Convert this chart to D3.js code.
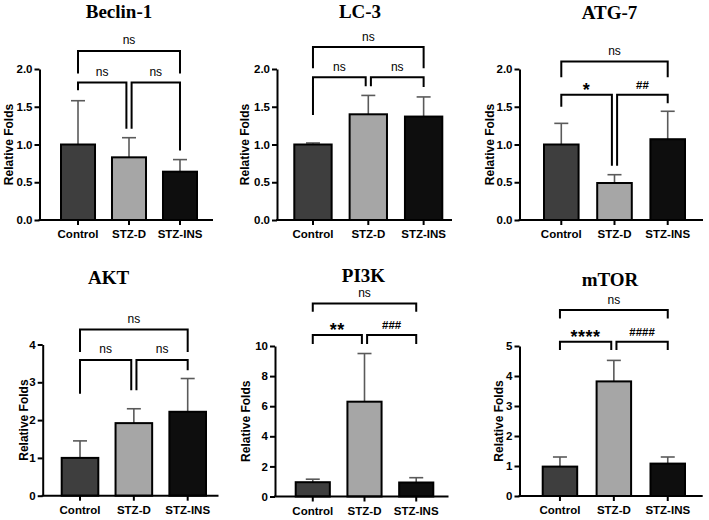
<!DOCTYPE html>
<html>
<head>
<meta charset="utf-8">
<script src="https://cdn.jsdelivr.net/npm/d3@7"></script>
<style>
  html, body { margin: 0; padding: 0; background: #fff; }
  svg { display: block; }
</style>
</head>
<body>
<svg id="chart" width="709" height="520"></svg>
<script>
// ---------------- DATA ----------------
const categories = ["Control", "STZ-D", "STZ-INS"];
const panelTitles = ["Beclin-1", "LC-3", "ATG-7", "AKT", "PI3K", "mTOR"];
const yAxisTitle = "Relative Folds";
// mean relative folds per panel (Control, STZ-D, STZ-INS)
const meanValues = [
  [1.00, 0.83, 0.64],
  [1.00, 1.40, 1.37],
  [1.00, 0.49, 1.07],
  [1.00, 1.92, 2.22],
  [0.95, 6.30, 0.93],
  [0.98, 3.82, 1.08]
];
// top of upper error bar per panel
const errorTops = [
  [1.58, 1.09, 0.80],
  [1.02, 1.65, 1.63],
  [1.28, 0.60, 1.44],
  [1.45, 2.30, 3.10],
  [1.15, 9.50, 1.25],
  [1.30, 4.52, 1.30]
];
const yMaxValues = [2, 2, 2, 4, 10, 5];
const yTickValues = [
  [0, 0.5, 1.0, 1.5, 2.0],
  [0, 0.5, 1.0, 1.5, 2.0],
  [0, 0.5, 1.0, 1.5, 2.0],
  [0, 1, 2, 3, 4],
  [0, 2, 4, 6, 8, 10],
  [0, 1, 2, 3, 4, 5]
];
const yTickFormats = [".1f", ".1f", ".1f", "d", "d", "d"];
// comparisons: [Control vs STZ-D, STZ-D vs STZ-INS, Control vs STZ-INS]
const comparisons = [[0, 1], [1, 2], [0, 2]];
const significanceLabels = [
  ["ns", "ns", "ns"],
  ["ns", "ns", "ns"],
  ["*", "##", "ns"],
  ["ns", "ns", "ns"],
  ["**", "###", "ns"],
  ["****", "####", "ns"]
];

// ---------------- LAYOUT (positions / sizes) ----------------
const layout = [
  { axisX: 39.5, axisEnd: 213, yTop: 69, yBottom: 220, band: [61, 197], pad: 0.333,
    titleX: 119, titleY: 17.5, yTitleX: 12.5,
    brLow: 1.82, brTop: 2.24, topLeg: 1.94, legs: [[1.72, 1.21], [1.21, 0.92]] },
  { axisX: 277, axisEnd: 452, yTop: 69, yBottom: 220, band: [294.3, 442.3], pad: 0.325,
    titleX: 360, titleY: 17.5, yTitleX: 248.5,
    brLow: 1.89, brTop: 2.29, topLeg: 2.01, legs: [[1.39, 1.77], [1.77, 1.76]] },
  { axisX: 519.5, axisEnd: 703, yTop: 69, yBottom: 220, band: [544, 685], pad: 0.35,
    titleX: 609.5, titleY: 18.5, yTitleX: 493.5,
    brLow: 1.66, brTop: 2.10, topLeg: 1.89, legs: [[1.50, 0.72], [0.72, 1.545]] },
  { axisX: 42.7, axisEnd: 218.5, yTop: 344.5, yBottom: 495.7, band: [61.7, 206], pad: 0.32,
    titleX: 108.5, titleY: 283.5, yTitleX: 28.3,
    brLow: 3.59, brTop: 4.40, topLeg: 3.80, legs: [[2.70, 2.79], [2.79, 3.32]] },
  { axisX: 275, axisEnd: 448.5, yTop: 346, yBottom: 496.5, band: [295.7, 433.3], pad: 0.34,
    titleX: 363.5, titleY: 282, yTitleX: 249.5,
    brLow: 10.73, brTop: 12.83, topLeg: 12.28, legs: [[10.13, 10.13], [10.13, 10.13]] },
  { axisX: 519.5, axisEnd: 702.7, yTop: 346, yBottom: 496, band: [542.7, 685], pad: 0.36,
    titleX: 610, titleY: 286, yTitleX: 502.5,
    brLow: 5.14, brTop: 6.20, topLeg: 5.92, legs: [[4.87, 4.87], [4.87, 4.87]] }
];

const barColors = ["#3e3e3e", "#a6a6a6", "#0e0e0e"];
const sansFont = "'Liberation Sans', Arial, Helvetica, sans-serif";
const serifFont = "'Liberation Serif', 'Times New Roman', serif";

const svg = d3.select("#chart");

panelTitles.forEach((title, p) => {
  const L = layout[p];
  const g = svg.append("g");
  const y = d3.scaleLinear().domain([0, yMaxValues[p]]).range([L.yBottom, L.yTop]);
  const x = d3.scaleBand().domain(categories).range(L.band).paddingInner(L.pad).paddingOuter(0);
  const bw = x.bandwidth();
  const cx = c => x(c) + bw / 2;

  // Title
  g.append("text")
    .attr("x", L.titleX).attr("y", L.titleY)
    .attr("text-anchor", "middle")
    .style("font-family", serifFont).style("font-weight", "bold").style("font-size", "19px")
    .text(title);

  // Y axis title
  g.append("text")
    .attr("transform", `translate(${L.yTitleX},${(L.yTop + L.yBottom) / 2}) rotate(-90)`)
    .attr("text-anchor", "middle")
    .style("font-family", sansFont).style("font-weight", "bold").style("font-size", "12px")
    .text(yAxisTitle);

  const rows = categories.map((c, i) => ({ c, i, v: meanValues[p][i], e: errorTops[p][i] }));

  // Error bars (upper only)
  const capW = 14;
  g.selectAll(".err").data(rows).enter().append("line")
    .attr("x1", d => cx(d.c)).attr("x2", d => cx(d.c))
    .attr("y1", d => y(d.v)).attr("y2", d => y(d.e))
    .attr("stroke", "#5a5a5a").attr("stroke-width", 1.6);
  g.selectAll(".cap").data(rows).enter().append("line")
    .attr("x1", d => cx(d.c) - capW / 2).attr("x2", d => cx(d.c) + capW / 2)
    .attr("y1", d => y(d.e)).attr("y2", d => y(d.e))
    .attr("stroke", "#5a5a5a").attr("stroke-width", 1.6);

  // Bars
  g.selectAll(".bar").data(rows).enter().append("rect")
    .attr("x", d => x(d.c)).attr("width", bw)
    .attr("y", d => y(d.v)).attr("height", d => y(0) - y(d.v))
    .attr("fill", d => barColors[d.i])
    .attr("stroke", "#000").attr("stroke-width", 2);

  // Y axis
  const yAxis = d3.axisLeft(y).tickValues(yTickValues[p])
    .tickFormat(d3.format(yTickFormats[p])).tickSize(5).tickSizeOuter(0).tickPadding(2);
  const ya = g.append("g").attr("transform", `translate(${L.axisX},0)`).call(yAxis);
  ya.select(".domain").attr("stroke", "#000").attr("stroke-width", 2);
  ya.selectAll(".tick line").attr("stroke", "#000").attr("stroke-width", 2);
  ya.selectAll(".tick text")
    .style("font-family", sansFont).style("font-weight", "bold").style("font-size", "11.5px")
    .attr("fill", "#000");

  // X axis
  const xAxis = d3.axisBottom(x).tickSize(5).tickSizeOuter(0);
  const xa = g.append("g").attr("transform", `translate(0,${L.yBottom})`).call(xAxis);
  xa.select(".domain").remove();
  xa.selectAll(".tick line").attr("stroke", "#000").attr("stroke-width", 2);
  xa.selectAll(".tick text")
    .attr("y", 18).attr("dy", 0)
    .style("font-family", sansFont).style("font-weight", "bold").style("font-size", "11.5px")
    .attr("fill", "#000");
  g.append("line")
    .attr("x1", L.axisX - 1).attr("x2", L.axisEnd)
    .attr("y1", L.yBottom).attr("y2", L.yBottom)
    .attr("stroke", "#000").attr("stroke-width", 2);

  // Significance brackets
  comparisons.forEach((cmp, k) => {
    const isTop = k === 2;
    const off = 2.6;
    let xa1 = cx(categories[cmp[0]]);
    let xa2 = cx(categories[cmp[1]]);
    if (!isTop) {
      if (cmp[0] === 1) xa1 += off;
      if (cmp[1] === 1) xa2 -= off;
    }
    const by = y(isTop ? L.brTop : L.brLow);
    const l1 = y(isTop ? L.topLeg : L.legs[k][0]);
    const l2 = y(isTop ? L.topLeg : L.legs[k][1]);
    g.append("path")
      .attr("d", `M${xa1},${l1}V${by}H${xa2}V${l2}`)
      .attr("fill", "none").attr("stroke", "#000").attr("stroke-width", 2);
    const lab = significanceLabels[p][k];
    const mid = (xa1 + xa2) / 2;
    const t = g.append("text").attr("x", mid).attr("text-anchor", "middle")
      .style("font-family", sansFont).attr("fill", "#000").text(lab);
    if (lab.startsWith("*")) {
      t.attr("y", by + 1).style("font-size", "18px").style("font-weight", "bold")
        .style("letter-spacing", "0.5px");
    } else if (lab.startsWith("#")) {
      t.attr("y", by - 6).style("font-size", "11.5px").style("font-weight", "bold");
    } else {
      t.attr("y", by - 6.5).style("font-size", "12px");
    }
  });
});
</script>
</body>
</html>
